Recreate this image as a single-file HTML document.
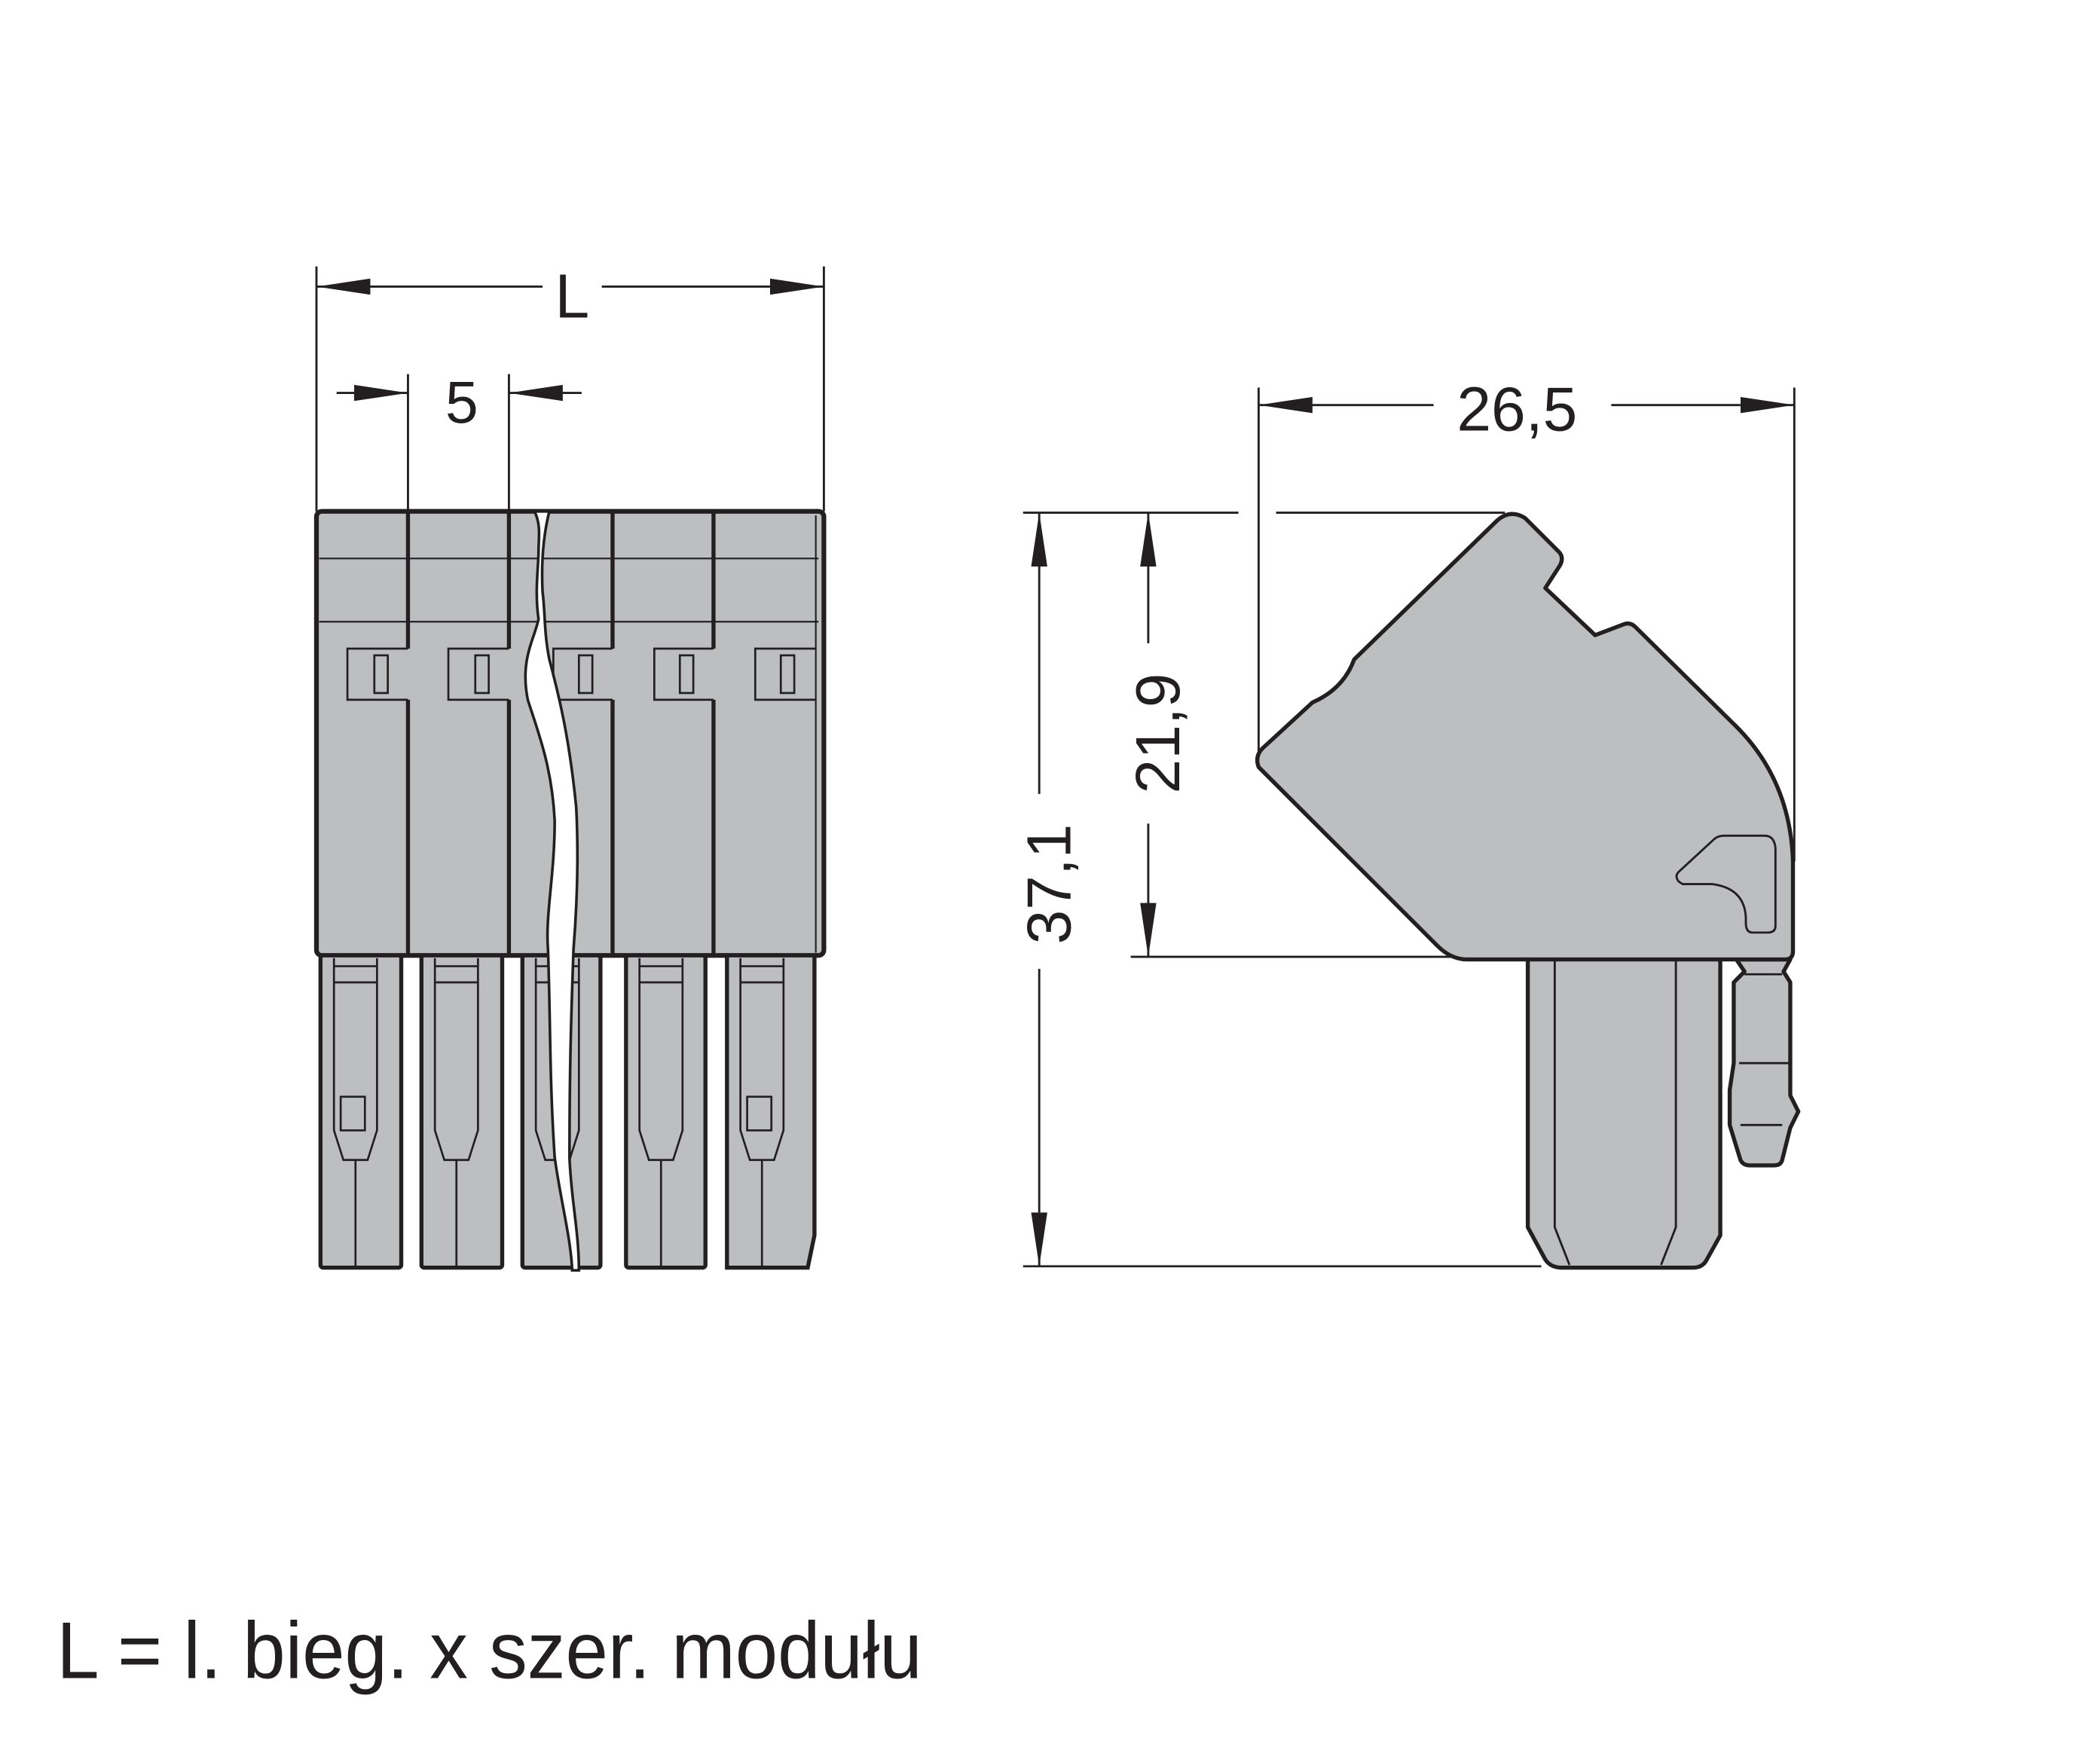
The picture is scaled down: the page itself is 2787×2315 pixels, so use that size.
<!DOCTYPE html>
<html><head><meta charset="utf-8"><style>
html,body{margin:0;padding:0;background:#fff;}
svg{display:block;}
text{font-family:"Liberation Sans Narrow","Liberation Sans",sans-serif;fill:#231f20;}
</style></head><body>
<svg width="2787" height="2315" viewBox="0 0 1560 1296" xmlns="http://www.w3.org/2000/svg">
<defs>
<marker id="a" viewBox="0 0 40 12" refX="40" refY="6" markerWidth="40" markerHeight="12" markerUnits="userSpaceOnUse" orient="auto"><path d="M0,0 L40,6 L0,12 Z" fill="#231f20"/></marker>
</defs>
<g stroke="#231f20" fill="none" stroke-width="1.6">
<line x1="235" y1="198" x2="235" y2="380"/>
<line x1="612" y1="198" x2="612" y2="380"/>
<line x1="275" y1="213" x2="235" y2="213" marker-end="url(#a)"/>
<line x1="275" y1="213" x2="403" y2="213"/>
<line x1="572" y1="213" x2="612" y2="213" marker-end="url(#a)"/>
<line x1="447" y1="213" x2="572" y2="213"/>
<line x1="303" y1="278" x2="303" y2="380"/>
<line x1="378" y1="278" x2="378" y2="380"/>
<line x1="250" y1="292" x2="263" y2="292"/>
<line x1="263" y1="292" x2="303" y2="292" marker-end="url(#a)"/>
<line x1="432" y1="292" x2="418" y2="292"/>
<line x1="418" y1="292" x2="378" y2="292" marker-end="url(#a)"/>
</g>
<text x="425" y="236" font-size="46" text-anchor="middle">L</text>
<text x="343" y="314" font-size="44" text-anchor="middle">5</text>

<g stroke="#231f20" fill="#bcbec0">
<rect x="235" y="380" width="377" height="330" rx="4" stroke-width="3.5"/>
<g stroke-width="3">
<rect x="238" y="710" width="60" height="232" rx="2"/>
<rect x="313" y="710" width="60" height="232" rx="2"/>
<rect x="388" y="710" width="58" height="232" rx="2"/>
<rect x="465" y="710" width="59" height="232" rx="2"/>
<path d="M540,710 H605 V918 L600,942 H540 Z"/>
</g>
</g>
<g stroke="#231f20" fill="none" stroke-width="1.2">
<line x1="237" y1="415" x2="608" y2="415"/>
<line x1="237" y1="462" x2="608" y2="462"/>
<line x1="606" y1="383" x2="606" y2="708"/>
</g>
<g stroke="#231f20" fill="none">
<g stroke-width="3">
<path d="M303,380 V482 M303,520 V710"/>
<path d="M378,380 V482 M378,520 V710"/>
<path d="M455,380 V482 M455,520 V710"/>
<path d="M530,380 V482 M530,520 V710"/>
</g>
<g stroke-width="1.5" fill="none">
<path d="M303,482 H258 V520 H303"/><rect x="278" y="487" width="10" height="28"/>
<path d="M378,482 H333 V520 H378"/><rect x="353" y="487" width="10" height="28"/>
<path d="M455,482 H411 V520 H455"/><rect x="430" y="487" width="10" height="28"/>
<path d="M530,482 H486 V520 H530"/><rect x="505" y="487" width="10" height="28"/>
<path d="M606,482 H561 V520 H606"/><rect x="580" y="487" width="10" height="28"/>
</g>
<g stroke-width="1.5">
<path d="M248,712 V718 H280 V712 M248,718 V840 L255,862 H273 L280,840 V718 M248,730 H280 M264,862 V942"/>
<rect x="253" y="815" width="18" height="25"/>
<path d="M323,712 V718 H355 V712 M323,718 V840 L330,862 H348 L355,840 V718 M323,730 H355 M339,862 V942"/>
<path d="M398,712 V718 H430 V712 M398,718 V840 L405,862 H423 L430,840 V718 M398,730 H430"/>
<path d="M475,712 V718 H507 V712 M475,718 V840 L482,862 H500 L507,840 V718 M475,730 H507 M491,862 V942"/>
<path d="M550,712 V718 H582 V712 M550,718 V840 L557,862 H575 L582,840 V718 M550,730 H582 M566,862 V942"/>
<rect x="555" y="815" width="18" height="25"/>
</g>
</g>
<path d="M397,380 C402,390 400,400 400,410 C400,420 397,440 400,460 C397,475 386,490 392,520 C400,545 410,570 412,610 C412,650 405,680 407,705 C409,760 408,800 412,860 C416,890 424,920 425,944 L430,944 C430,915 424,890 423,860 C423,800 424,760 426,705 C428,680 430,640 428,600 C423,550 416,520 408,490 C404,470 405,455 403,440 C402,420 403,400 408,380 Z" fill="#fff" stroke="#231f20" stroke-width="2"/>

<g stroke="#231f20" fill="none" stroke-width="1.6">
<line x1="935" y1="288" x2="935" y2="560"/>
<line x1="1333" y1="288" x2="1333" y2="640"/>
<line x1="975" y1="301" x2="935" y2="301" marker-end="url(#a)"/>
<line x1="975" y1="301" x2="1065" y2="301"/>
<line x1="1293" y1="301" x2="1333" y2="301" marker-end="url(#a)"/>
<line x1="1197" y1="301" x2="1293" y2="301"/>
<line x1="760" y1="381" x2="920" y2="381"/>
<line x1="948" y1="381" x2="1118" y2="381"/>
<line x1="840" y1="711" x2="1085" y2="711"/>
<line x1="760" y1="941" x2="1145" y2="941"/>
<line x1="772" y1="421" x2="772" y2="381" marker-end="url(#a)"/>
<line x1="772" y1="421" x2="772" y2="590"/>
<line x1="772" y1="901" x2="772" y2="941" marker-end="url(#a)"/>
<line x1="772" y1="720" x2="772" y2="901"/>
<line x1="853" y1="421" x2="853" y2="381" marker-end="url(#a)"/>
<line x1="853" y1="421" x2="853" y2="478"/>
<line x1="853" y1="671" x2="853" y2="711" marker-end="url(#a)"/>
<line x1="853" y1="612" x2="853" y2="671"/>
</g>
<text x="1127" y="320" font-size="46" text-anchor="middle">26,5</text>
<text transform="translate(795,657) rotate(-90)" font-size="46" text-anchor="middle">37,1</text>
<text transform="translate(876,545) rotate(-90)" font-size="46" text-anchor="middle">21,9</text>

<g stroke="#231f20" stroke-width="3" fill="#bcbec0" stroke-linejoin="round">
<path d="M1135,711 V912 L1148,936 Q1152,942 1160,942 H1258 Q1265,942 1268,936 L1278,918 V711 Z"/>
<path d="M1290,713 L1296,722 L1288,730 V790 L1285,810 V836 L1293,862 Q1295,866 1300,866 H1318 Q1323,866 1324,862 L1330,838 L1336,826 L1330,814 V730 L1325,722 L1330,713 Z"/>
<path d="M935,570 Q932,562 938,556 L975,522 Q998,512 1006,490 L1112,387 Q1122,378 1133,385 L1158,410 Q1162,414 1159,420 L1148,437 L1185,472 L1206,464 Q1211,462 1215,466 L1290,540 Q1330,580 1332,640 V707 Q1332,713 1326,713 H1090 Q1078,713 1068,703 Z"/>
</g>
<g stroke="#231f20" stroke-width="1.6" fill="none">
<path d="M1155,713 V912 L1166,940 M1245,713 V912 L1234,940"/>
<path d="M1296,724 H1324 M1292,790 H1330 M1293,836 H1324"/>
<path d="M1247,655 Q1244,651 1247,648 L1273,624 Q1276,621 1281,621 H1311 Q1318,621 1319,630 V688 Q1319,693 1313,693 H1302 Q1297,693 1297,686 V682 Q1296,660 1272,657 H1250 Z"/>
</g>

<text x="42" y="1247" font-size="60" textLength="643" lengthAdjust="spacingAndGlyphs">L = l. bieg. x szer. modułu</text>
</svg>
</body></html>
